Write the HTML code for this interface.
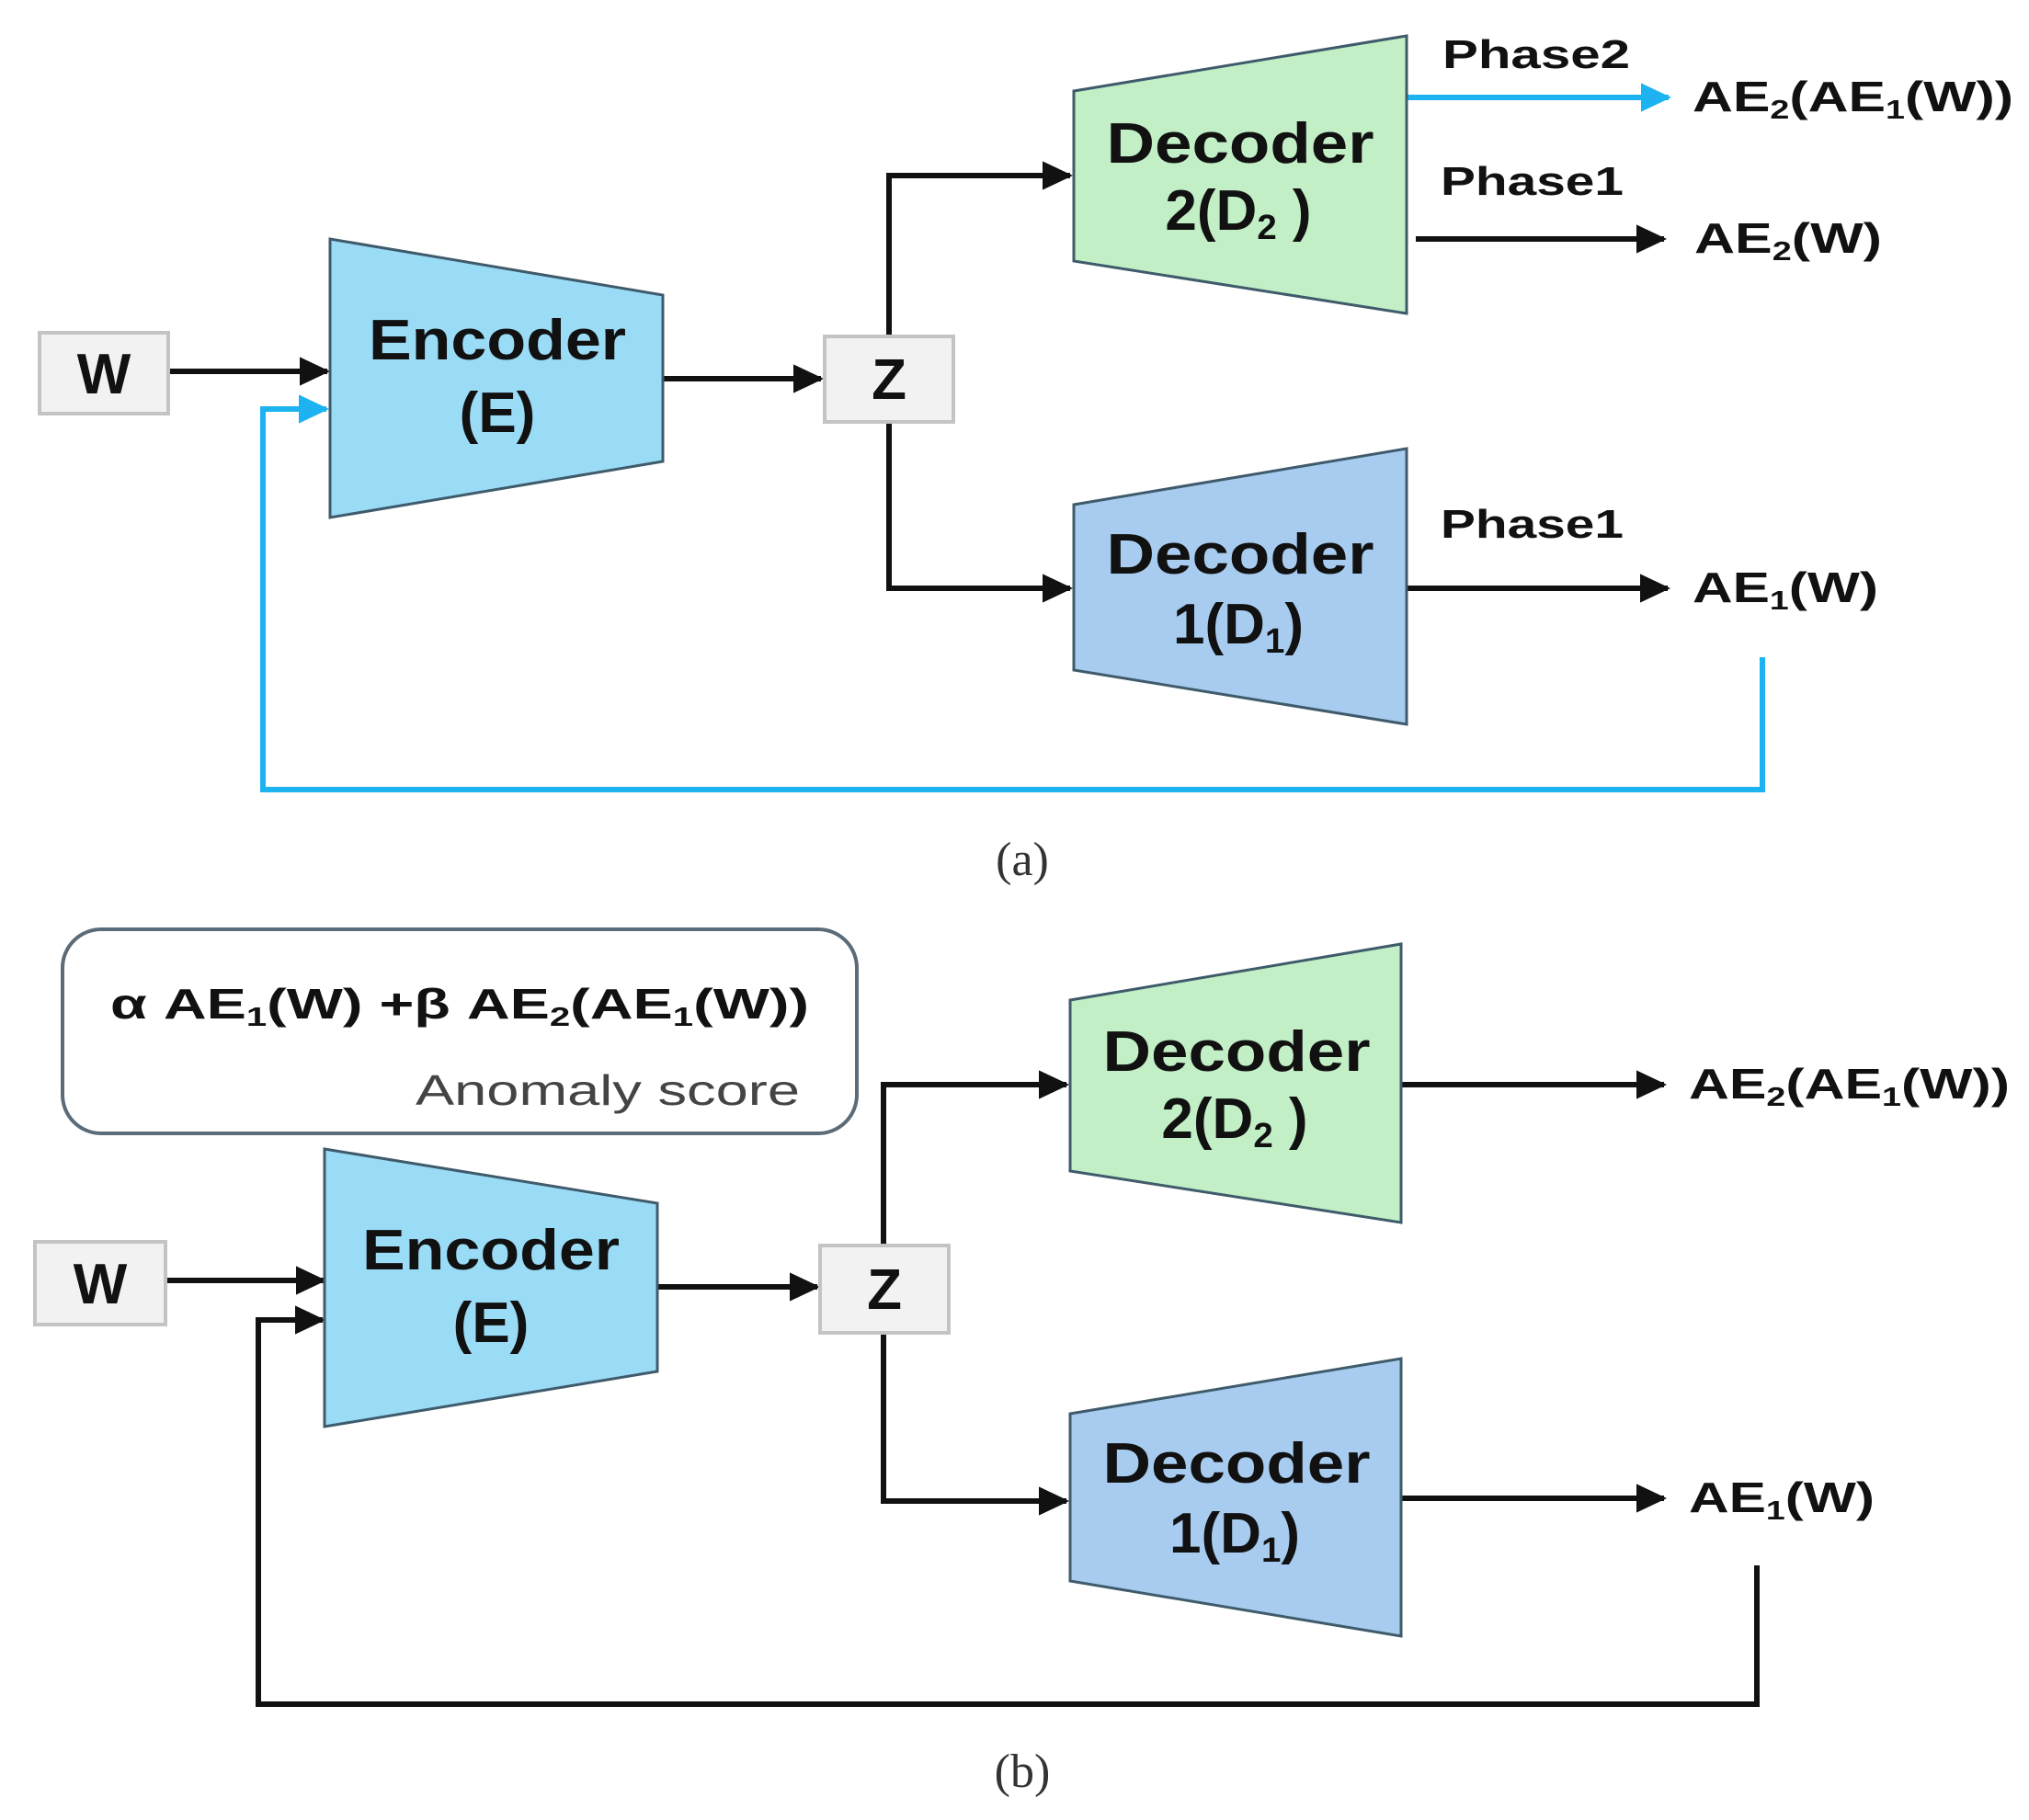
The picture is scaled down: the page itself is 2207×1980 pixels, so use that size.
<!DOCTYPE html>
<html><head><meta charset="utf-8"><style>
html,body{margin:0;padding:0;background:#fff;}
svg{display:block;}
.b{font-family:"Liberation Sans",sans-serif;font-weight:bold;fill:#111;}
.s{font-size:0.62em;}
</style></head><body>
<svg width="2207" height="1980" viewBox="0 0 2207 1980" xmlns="http://www.w3.org/2000/svg">
<defs>
<marker id="ak" markerWidth="6" markerHeight="6" refX="5" refY="3" orient="auto" markerUnits="strokeWidth"><path d="M0,0.4 L5.5,3 L0,5.6 Z" fill="#111"/></marker>
<marker id="ab" markerWidth="6" markerHeight="6" refX="5" refY="3" orient="auto" markerUnits="strokeWidth"><path d="M0,0.4 L5.5,3 L0,5.6 Z" fill="#1db3f0"/></marker>
</defs>

<!-- ===== Panel (a) ===== -->
<g stroke="#111" stroke-width="6" fill="none">
<line x1="183" y1="404" x2="356" y2="404" marker-end="url(#ak)"/>
<line x1="721" y1="412" x2="893" y2="412" marker-end="url(#ak)"/>
<polyline points="1164,191 967,191 967,640 1164,640" />
<line x1="1150" y1="191" x2="1164" y2="191" marker-end="url(#ak)"/>
<line x1="1150" y1="640" x2="1164" y2="640" marker-end="url(#ak)"/>
<line x1="1540" y1="260" x2="1810" y2="260" marker-end="url(#ak)"/>
<line x1="1530" y1="640" x2="1814" y2="640" marker-end="url(#ak)"/>
</g>
<g stroke="#1db3f0" stroke-width="6" fill="none">
<polyline points="1917,715 1917,859 286,859 286,445 340,445"/>
<line x1="330" y1="445" x2="355" y2="445" marker-end="url(#ab)"/>
<line x1="1530" y1="106" x2="1815" y2="106" marker-end="url(#ab)"/>
</g>

<rect x="43" y="362" width="140" height="88" fill="#f2f2f2" stroke="#c4c4c4" stroke-width="4"/>
<text x="113" y="428" text-anchor="middle" class="b" font-size="62">W</text>
<rect x="897" y="366" width="140" height="93" fill="#f2f2f2" stroke="#c4c4c4" stroke-width="4"/>
<text x="967" y="434" text-anchor="middle" class="b" font-size="62">Z</text>

<polygon points="359,260 721,321 721,502 359,563" fill="#9adcf6" stroke="#3f5b6b" stroke-width="3"/>
<text x="541" y="391" text-anchor="middle" class="b" font-size="62" textLength="280" lengthAdjust="spacingAndGlyphs">Encoder</text>
<text x="541" y="470" text-anchor="middle" class="b" font-size="62">(E)</text>

<polygon points="1168,99 1530,39 1530,341 1168,284" fill="#c2efc6" stroke="#3f5b6b" stroke-width="3"/>
<text x="1349" y="177" text-anchor="middle" class="b" font-size="62" textLength="291" lengthAdjust="spacingAndGlyphs">Decoder</text>
<text x="1347" y="250" text-anchor="middle" class="b" font-size="62">2(D<tspan class="s" dy="10">2</tspan><tspan dy="-10"> )</tspan></text>

<polygon points="1168,549 1530,488 1530,788 1168,729" fill="#a8ccef" stroke="#3f5b6b" stroke-width="3"/>
<text x="1349" y="624" text-anchor="middle" class="b" font-size="62" textLength="291" lengthAdjust="spacingAndGlyphs">Decoder</text>
<text x="1347" y="700" text-anchor="middle" class="b" font-size="62">1(D<tspan class="s" dy="10">1</tspan><tspan dy="-10">)</tspan></text>

<text x="1569" y="74" class="b" font-size="44" textLength="204" lengthAdjust="spacingAndGlyphs">Phase2</text>
<text x="1567" y="212" class="b" font-size="44" textLength="199" lengthAdjust="spacingAndGlyphs">Phase1</text>
<text x="1567" y="585" class="b" font-size="44" textLength="199" lengthAdjust="spacingAndGlyphs">Phase1</text>

<text x="1841" y="121" class="b" font-size="46" textLength="349" lengthAdjust="spacingAndGlyphs">AE<tspan class="s" dy="8">2</tspan><tspan dy="-8">(AE</tspan><tspan class="s" dy="8">1</tspan><tspan dy="-8">(W))</tspan></text>
<text x="1843" y="275" class="b" font-size="46" textLength="204" lengthAdjust="spacingAndGlyphs">AE<tspan class="s" dy="8">2</tspan><tspan dy="-8">(W)</tspan></text>
<text x="1841" y="655" class="b" font-size="46" textLength="202" lengthAdjust="spacingAndGlyphs">AE<tspan class="s" dy="8">1</tspan><tspan dy="-8">(W)</tspan></text>

<text x="1112" y="952" text-anchor="middle" font-family="Liberation Serif,serif" font-size="52" fill="#333">(a)</text>

<!-- ===== Panel (b) ===== -->
<rect x="68" y="1011" width="864" height="222" rx="42" ry="42" fill="#fff" stroke="#5b6b78" stroke-width="4"/>
<text x="120" y="1108" class="b" font-size="46" textLength="760" lengthAdjust="spacingAndGlyphs">α AE<tspan class="s" dy="8">1</tspan><tspan dy="-8">(W)  +β AE</tspan><tspan class="s" dy="8">2</tspan><tspan dy="-8">(AE</tspan><tspan class="s" dy="8">1</tspan><tspan dy="-8">(W))</tspan></text>
<text x="870" y="1202" text-anchor="end" font-family="Liberation Sans,sans-serif" font-size="46" fill="#444" textLength="418" lengthAdjust="spacingAndGlyphs">Anomaly score</text>

<g stroke="#111" stroke-width="6" fill="none">
<line x1="180" y1="1393" x2="352" y2="1393" marker-end="url(#ak)"/>
<polyline points="1911,1703 1911,1854 281,1854 281,1436 335,1436"/>
<line x1="325" y1="1436" x2="351" y2="1436" marker-end="url(#ak)"/>
<line x1="715" y1="1400" x2="889" y2="1400" marker-end="url(#ak)"/>
<polyline points="1160,1180 961,1180 961,1633 1160,1633"/>
<line x1="1145" y1="1180" x2="1160" y2="1180" marker-end="url(#ak)"/>
<line x1="1145" y1="1633" x2="1160" y2="1633" marker-end="url(#ak)"/>
<line x1="1524" y1="1180" x2="1810" y2="1180" marker-end="url(#ak)"/>
<line x1="1524" y1="1630" x2="1810" y2="1630" marker-end="url(#ak)"/>
</g>

<rect x="38" y="1351" width="142" height="90" fill="#f2f2f2" stroke="#c4c4c4" stroke-width="4"/>
<text x="109" y="1418" text-anchor="middle" class="b" font-size="62">W</text>
<rect x="892" y="1355" width="140" height="95" fill="#f2f2f2" stroke="#c4c4c4" stroke-width="4"/>
<text x="962" y="1424" text-anchor="middle" class="b" font-size="62">Z</text>

<polygon points="353,1250 715,1309 715,1492 353,1552" fill="#9adcf6" stroke="#3f5b6b" stroke-width="3"/>
<text x="534" y="1381" text-anchor="middle" class="b" font-size="62" textLength="280" lengthAdjust="spacingAndGlyphs">Encoder</text>
<text x="534" y="1460" text-anchor="middle" class="b" font-size="62">(E)</text>

<polygon points="1164,1088 1524,1027 1524,1330 1164,1274" fill="#c2efc6" stroke="#3f5b6b" stroke-width="3"/>
<text x="1345" y="1165" text-anchor="middle" class="b" font-size="62" textLength="291" lengthAdjust="spacingAndGlyphs">Decoder</text>
<text x="1343" y="1238" text-anchor="middle" class="b" font-size="62">2(D<tspan class="s" dy="10">2</tspan><tspan dy="-10"> )</tspan></text>

<polygon points="1164,1538 1524,1478 1524,1780 1164,1720" fill="#a8ccef" stroke="#3f5b6b" stroke-width="3"/>
<text x="1345" y="1613" text-anchor="middle" class="b" font-size="62" textLength="291" lengthAdjust="spacingAndGlyphs">Decoder</text>
<text x="1343" y="1689" text-anchor="middle" class="b" font-size="62">1(D<tspan class="s" dy="10">1</tspan><tspan dy="-10">)</tspan></text>

<text x="1837" y="1195" class="b" font-size="46" textLength="349" lengthAdjust="spacingAndGlyphs">AE<tspan class="s" dy="8">2</tspan><tspan dy="-8">(AE</tspan><tspan class="s" dy="8">1</tspan><tspan dy="-8">(W))</tspan></text>
<text x="1837" y="1645" class="b" font-size="46" textLength="202" lengthAdjust="spacingAndGlyphs">AE<tspan class="s" dy="8">1</tspan><tspan dy="-8">(W)</tspan></text>

<text x="1112" y="1944" text-anchor="middle" font-family="Liberation Serif,serif" font-size="52" fill="#333">(b)</text>
</svg>
</body></html>
